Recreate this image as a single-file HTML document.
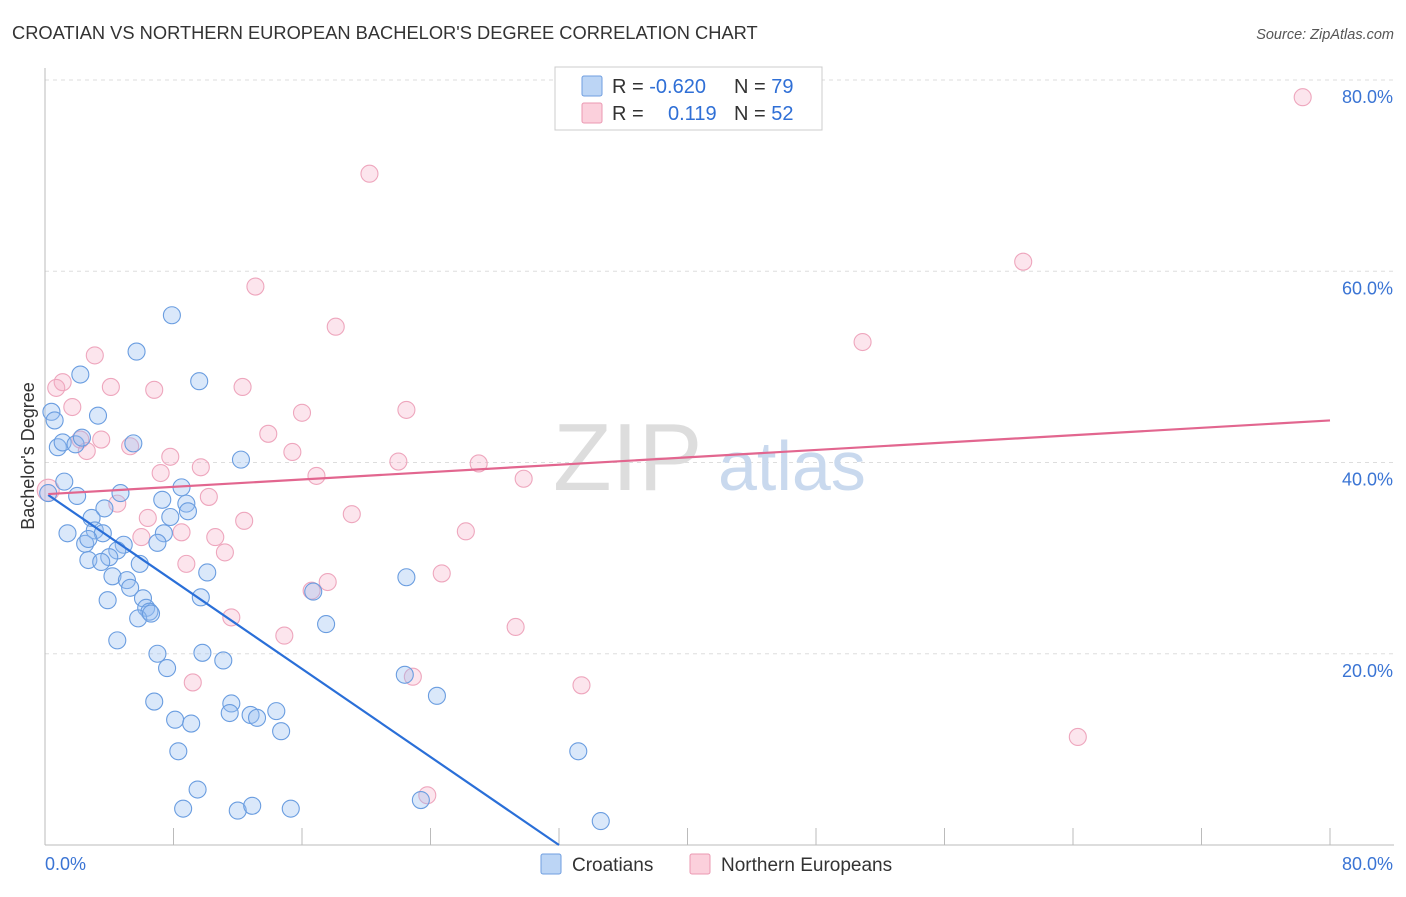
<!DOCTYPE html>
<html><head><meta charset="utf-8"><style>
body{margin:0;background:#fff;font-family:"Liberation Sans",sans-serif}
svg text{font-family:"Liberation Sans",sans-serif}
</style></head><body>
<svg width="1406" height="892" viewBox="0 0 1406 892">
<text x="12" y="39" font-size="18.3" fill="#333">CROATIAN VS NORTHERN EUROPEAN BACHELOR'S DEGREE CORRELATION CHART</text>
<text x="1394" y="39" font-size="14.5" fill="#555" font-style="italic" text-anchor="end">Source: ZipAtlas.com</text>
<g id="grid"></g>
<g><text x="553" y="490" font-size="96" fill="#ddd" font-family="Liberation Serif,serif">ZIP</text><text x="718" y="490" font-size="70" fill="#c9d9ee">atlas</text></g>
<line x1="45" y1="68" x2="45" y2="845" stroke="#bbb"/>
<line x1="45" y1="845" x2="1394" y2="845" stroke="#bbb"/>
<g id="ticks"></g>
<text x="34" y="456" font-size="18" fill="#333" transform="rotate(-90 34 456)" text-anchor="middle">Bachelor's Degree</text>
<g id="pts"></g>
<g id="trends"></g>
<g>
<rect x="555" y="67" width="267" height="63" fill="#fff" stroke="#ccc"/>
<rect x="582" y="76" width="20" height="20" fill="#bcd5f5" stroke="#6f9ee0" rx="2"/>
<rect x="582" y="103" width="20" height="20" fill="#fbd0dc" stroke="#eb98b2" rx="2"/>
<text x="612" y="93" font-size="20" fill="#333">R = <tspan fill="#2f6fd6">-0.620</tspan></text>
<text x="734" y="93" font-size="20" fill="#333">N = <tspan fill="#2f6fd6">79</tspan></text>
<text x="612" y="120" font-size="20" fill="#333">R = <tspan x="668" fill="#2f6fd6">0.119</tspan></text>
<text x="734" y="120" font-size="20" fill="#333">N = <tspan fill="#2f6fd6">52</tspan></text>
</g>
<g>
<rect x="541" y="854" width="20" height="20" fill="#bcd5f5" stroke="#6f9ee0" rx="2"/>
<text x="572" y="871" font-size="19" fill="#333">Croatians</text>
<rect x="690" y="854" width="20" height="20" fill="#fbd0dc" stroke="#eb98b2" rx="2"/>
<text x="721" y="871" font-size="19" fill="#333">Northern Europeans</text>
</g>
</svg>
<script>
const blueX=[0.4,0.6,2.2,3.3,5.7,7.9,9.6,0.8,1.1,1.9,2.3,5.5,12.2,0.2,1.2,2.0,4.7,8.5,7.3,8.8,8.9,3.7,2.9,7.8,1.4,3.1,3.6,7.4,7.0,2.5,2.7,4.9,4.5,4.0,2.7,3.5,5.9,10.1,4.2,5.1,5.3,6.1,9.7,3.9,6.3,6.5,5.8,6.6,4.5,7.0,9.8,11.1,7.6,6.8,8.1,9.1,11.6,11.5,12.8,13.2,14.4,14.7,8.3,9.5,8.6,12.0,12.9,15.3,16.7,17.5,22.5,22.4,24.4,23.4,33.2,34.6];
const blueY=[45.3,44.4,49.2,44.9,51.6,55.4,48.5,41.6,42.1,41.9,42.6,42.0,40.3,36.8,38.0,36.5,36.8,37.4,36.1,35.7,34.9,35.2,34.2,34.3,32.6,32.9,32.6,32.6,31.6,31.5,32.0,31.4,30.8,30.1,29.8,29.6,29.4,28.5,28.1,27.7,26.9,25.8,25.9,25.6,24.8,24.4,23.7,24.2,21.4,20.0,20.1,19.3,18.5,15.0,13.1,12.7,14.8,13.8,13.6,13.3,14.0,11.9,9.8,5.8,3.8,3.6,4.1,3.8,26.5,23.1,28.0,17.8,15.6,4.7,9.8,2.5];
const pinkX=[78.3,20.2,60.9,13.1,18.1,50.9,3.1,1.1,0.7,4.1,6.8,12.3,1.7,16.0,22.5,2.2,3.5,5.3,2.6,13.9,15.4,7.8,9.7,7.2,16.9,22.0,27.0,29.8,0.2,10.2,4.5,6.4,12.4,19.1,26.2,8.5,6.0,10.6,11.2,8.8,24.7,17.6,16.6,11.6,14.9,29.3,9.2,22.9,33.4,64.3,23.8];
const pinkY=[78.2,70.2,61.0,58.4,54.2,52.6,51.2,48.4,47.8,47.9,47.6,47.9,45.8,45.2,45.5,42.4,42.4,41.7,41.2,43.0,41.1,40.6,39.5,38.9,38.6,40.1,39.9,38.3,37.1,36.4,35.7,34.2,33.9,34.6,32.8,32.7,32.2,32.2,30.6,29.4,28.4,27.5,26.6,23.8,21.9,22.8,17.0,17.6,16.7,11.3,5.2];
const blueTrendX=[0.2,32.0], blueTrendY=[36.6,0];
const pinkTrendX=[0.2,80], pinkTrendY=[36.7,44.4];
const yTicks=[20,40,60,80];
const xTicks=[0,8,16,24,32,40,48,56,64,72,80];
const X=v=>45+v*(1330-45)/80, Y=v=>845-v*(845-80)/80;
const NS="http://www.w3.org/2000/svg";
function mk(t,a,p){const e=document.createElementNS(NS,t);for(const k in a)e.setAttribute(k,a[k]);p.appendChild(e);return e;}
const grid=document.getElementById('grid'),ticks=document.getElementById('ticks');
yTicks.forEach(v=>{
 const l=mk('line',{x1:45,x2:1394,y1:Y(v),y2:Y(v),stroke:'#ddd','stroke-dasharray':'4,4'},grid);
 
 
 const t=mk('text',{x:1393,y:Y(v)+23,'font-size':18,fill:'#3a74d4','text-anchor':'end'},ticks);
 t.textContent=v.toFixed(1)+'%';
 
 
});
xTicks.forEach(v=>{
 const l=mk('line',{x1:X(v),x2:X(v),y1:828,y2:845,stroke:'#bbb'},ticks);
 
 
});
[[0,45,'start'],[80,1393,'end']].forEach(([v,x,a])=>{
 const t=mk('text',{x:x,y:870,'font-size':18,fill:'#3a74d4','text-anchor':a},ticks);
 t.textContent=v.toFixed(1)+'%';
 
 
});
const pts=document.getElementById('pts');
pinkX.forEach((x,i)=>{
 const c=mk('circle',{cx:X(x),cy:Y(pinkY[i]),r:i==28?11:8.5,fill:'rgba(246,170,195,0.3)',stroke:'#eea6bd','stroke-width':1.1},pts);
 
 
});
blueX.forEach((x,i)=>{
 const c=mk('circle',{cx:X(x),cy:Y(blueY[i]),r:8.5,fill:'rgba(150,190,240,0.35)',stroke:'#6a9de0','stroke-width':1.1},pts);
 
 
});
const tr=document.getElementById('trends');
const b=mk('line',{x1:X(blueTrendX[0]),y1:Y(blueTrendY[0]),x2:X(blueTrendX[1]),y2:Y(blueTrendY[1]),stroke:'#2a6fd8','stroke-width':2.2},tr);


const p=mk('line',{x1:X(pinkTrendX[0]),y1:Y(pinkTrendY[0]),x2:X(pinkTrendX[1]),y2:Y(pinkTrendY[1]),stroke:'#e2668f','stroke-width':2.2},tr);


</script>
</body></html>
